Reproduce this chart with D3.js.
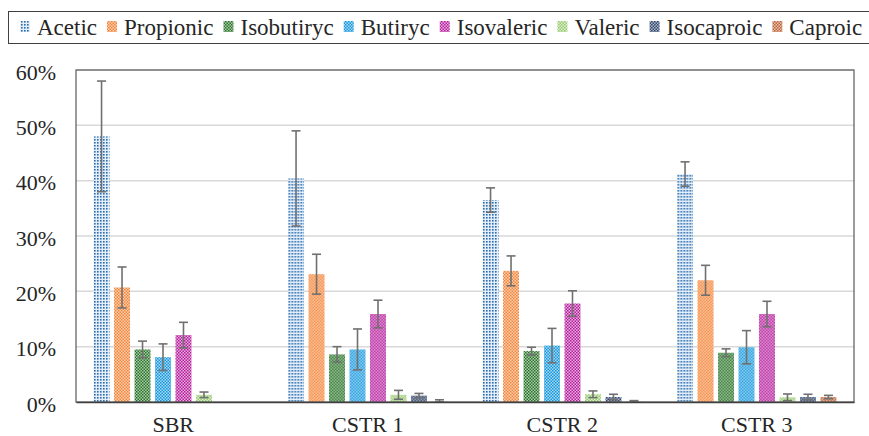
<!DOCTYPE html>
<html>
<head>
<meta charset="utf-8">
<script src="https://cdn.jsdelivr.net/npm/d3@7"></script>
</head>
<body style="margin:0">
<script>
// Data (fractions, shown as %)
var categories = ["SBR", "CSTR 1", "CSTR 2", "CSTR 3"];
var seriesNames = ["Acetic", "Propionic", "Isobutiryc", "Butiryc", "Isovaleric", "Valeric", "Isocaproic", "Caproic"];

var acetic     = [0.480, 0.404, 0.365, 0.412];
var propionic  = [0.207, 0.231, 0.237, 0.220];
var isobutiryc = [0.095, 0.086, 0.092, 0.089];
var butiryc    = [0.081, 0.095, 0.102, 0.099];
var isovaleric = [0.121, 0.159, 0.178, 0.159];
var valeric    = [0.013, 0.013, 0.014, 0.0085];
var isocaproic = [0.000, 0.0115, 0.009, 0.009];
var caproic    = [0.000, 0.0005, 0.0005, 0.009];

var aceticErr     = [0.100, 0.086, 0.022, 0.022];
var propionicErr  = [0.037, 0.036, 0.027, 0.027];
var isobutirycErr = [0.015, 0.014, 0.007, 0.007];
var butirycErr    = [0.024, 0.037, 0.031, 0.030];
var isovalericErr = [0.023, 0.025, 0.023, 0.023];
var valericErr    = [0.005, 0.008, 0.006, 0.006];
var isocaproicErr = [0.000, 0.004, 0.005, 0.005];
var caproicErr    = [0.000, 0.0035, 0.002, 0.003];

var yTicks = [0, 0.1, 0.2, 0.3, 0.4, 0.5, 0.6];

var seriesValues = [acetic, propionic, isobutiryc, butiryc, isovaleric, valeric, isocaproic, caproic];
var seriesErrors = [aceticErr, propionicErr, isobutirycErr, butirycErr, isovalericErr, valericErr, isocaproicErr, caproicErr];

// pattern colours: [main, light]
var colors = [
  ["#2a6cae", "#e4eef8"],
  ["#f5843a", "#fbd0b0"],
  ["#2a6e33", "#abd09f"],
  ["#1597dc", "#a6d8f4"],
  ["#b1229a", "#eaa8de"],
  ["#97ca70", "#dcefcc"],
  ["#34476a", "#a9b5c9"],
  ["#b6613a", "#ecc4ad"]
];

var fontFam = "'Liberation Serif'";

var svgWidth = 869;
var svgHeight = 436;

var margin = { top: 70, right: 15, bottom: 34, left: 76 };
var width = svgWidth - margin.left - margin.right;
var height = svgHeight - margin.top - margin.bottom;

var svg = d3.select("body")
  .append("svg")
  .attr("width", svgWidth)
  .attr("height", svgHeight);

// patterns
var defs = svg.append("defs");
seriesNames.forEach(function(name, i) {
  var p = defs.append("pattern")
    .attr("id", "pat" + i)
    .attr("patternUnits", "userSpaceOnUse")
    .attr("width", 3)
    .attr("height", 3);
  p.append("rect").attr("width", 3).attr("height", 3).attr("fill", colors[i][1]);
  if (i === 0) {
    // dotted fill for Acetic
    p.append("rect").attr("width", 1.6).attr("height", 1.6).attr("fill", colors[i][0]);
  } else {
    // small checker
    p.append("rect").attr("width", 1.5).attr("height", 1.5).attr("fill", colors[i][0]);
    p.append("rect").attr("x", 1.5).attr("y", 1.5).attr("width", 1.5).attr("height", 1.5).attr("fill", colors[i][0]);
  }
});

var chartGroup = svg.append("g")
  .attr("transform", `translate(${margin.left}, ${margin.top})`);

// scales
var x0 = d3.scaleBand()
  .domain(categories)
  .range([0, width])
  .padding(0);

var x1 = d3.scaleBand()
  .domain(seriesNames)
  .range([0, x0.bandwidth()])
  .paddingInner(0.22)
  .paddingOuter(0.857);

var y = d3.scaleLinear()
  .domain([0, 0.6])
  .range([height, 0]);

// gridlines
chartGroup.append("g")
  .selectAll("line")
  .data(yTicks.slice(1))
  .enter()
  .append("line")
  .attr("x1", 0)
  .attr("x2", width)
  .attr("y1", d => y(d))
  .attr("y2", d => y(d))
  .attr("stroke", "#d9d9d9")
  .attr("stroke-width", 1.5);

// y tick labels
var leftAxis = d3.axisLeft(y).tickValues(yTicks).tickFormat(d3.format(".0%")).tickSize(0).tickPadding(20);
var yAxisG = chartGroup.append("g").call(leftAxis)
  .attr("font-family", null)
  .attr("font-size", null);
yAxisG.select(".domain").remove();
yAxisG.selectAll("text")
  .attr("dy", "0.42em")
  .attr("fill", "#262626")
  .style("font-family", fontFam)
  .style("font-size", "22px");

// bars
var groups = chartGroup.selectAll("g.cat")
  .data(categories)
  .enter()
  .append("g")
  .attr("class", "cat")
  .attr("transform", d => `translate(${x0(d)}, 0)`);

groups.selectAll("rect")
  .data((c, ci) => seriesNames.map((s, si) => ({ s: s, si: si, v: seriesValues[si][ci], e: seriesErrors[si][ci] })))
  .enter()
  .append("rect")
  .attr("x", d => x1(d.s))
  .attr("y", d => y(d.v))
  .attr("width", x1.bandwidth())
  .attr("height", d => height - y(d.v))
  .attr("fill", d => `url(#pat${d.si})`);

// error bars
var errs = groups.selectAll("g.err")
  .data((c, ci) => seriesNames.map((s, si) => ({ s: s, v: seriesValues[si][ci], e: seriesErrors[si][ci] }))
    .filter(d => d.e > 0))
  .enter()
  .append("g")
  .attr("class", "err")
  .attr("stroke", "#707070")
  .attr("stroke-width", 1.6);

errs.append("line")
  .attr("x1", d => x1(d.s) + x1.bandwidth() / 2)
  .attr("x2", d => x1(d.s) + x1.bandwidth() / 2)
  .attr("y1", d => y(d.v + d.e))
  .attr("y2", d => y(Math.max(0, d.v - d.e)));

errs.append("line")
  .attr("x1", d => x1(d.s) + x1.bandwidth() / 2 - 4.5)
  .attr("x2", d => x1(d.s) + x1.bandwidth() / 2 + 4.5)
  .attr("y1", d => y(d.v + d.e))
  .attr("y2", d => y(d.v + d.e));

errs.append("line")
  .attr("x1", d => x1(d.s) + x1.bandwidth() / 2 - 4.5)
  .attr("x2", d => x1(d.s) + x1.bandwidth() / 2 + 4.5)
  .attr("y1", d => y(Math.max(0, d.v - d.e)))
  .attr("y2", d => y(Math.max(0, d.v - d.e)));

// plot frame
chartGroup.append("rect")
  .attr("x", 0)
  .attr("y", 0)
  .attr("width", width)
  .attr("height", height)
  .attr("fill", "none")
  .attr("stroke", "#5a5a5a")
  .attr("stroke-width", 1.2);

// x axis
var bottomAxis = d3.axisBottom(x0).tickSize(0).tickPadding(14);
var xAxisG = chartGroup.append("g")
  .attr("transform", `translate(0, ${height})`)
  .call(bottomAxis)
  .attr("font-family", null)
  .attr("font-size", null);
xAxisG.select(".domain").attr("stroke", "#404040").attr("stroke-width", 1.5);
xAxisG.selectAll("text")
  .attr("dy", "0.71em")
  .attr("fill", "#262626")
  .style("font-family", fontFam)
  .style("font-size", "22px");

// legend
var legend = svg.append("g");
legend.append("rect")
  .attr("x", 8.5)
  .attr("y", 11.5)
  .attr("width", 900)
  .attr("height", 32)
  .attr("fill", "#fff")
  .attr("stroke", "#404040")
  .attr("stroke-width", 1);

var lx = 20;
seriesNames.forEach(function(name, i) {
  legend.append("rect")
    .attr("x", lx)
    .attr("y", 21)
    .attr("width", 10)
    .attr("height", 11)
    .attr("fill", `url(#pat${i})`);
  var t = legend.append("text")
    .attr("x", lx + 17)
    .attr("y", 35)
    .attr("fill", "#262626")
    .style("font-family", fontFam)
    .style("font-size", "23px")
    .text(name);
  lx += 17 + t.node().getComputedTextLength() + 10;
});
</script>
</body>
</html>
